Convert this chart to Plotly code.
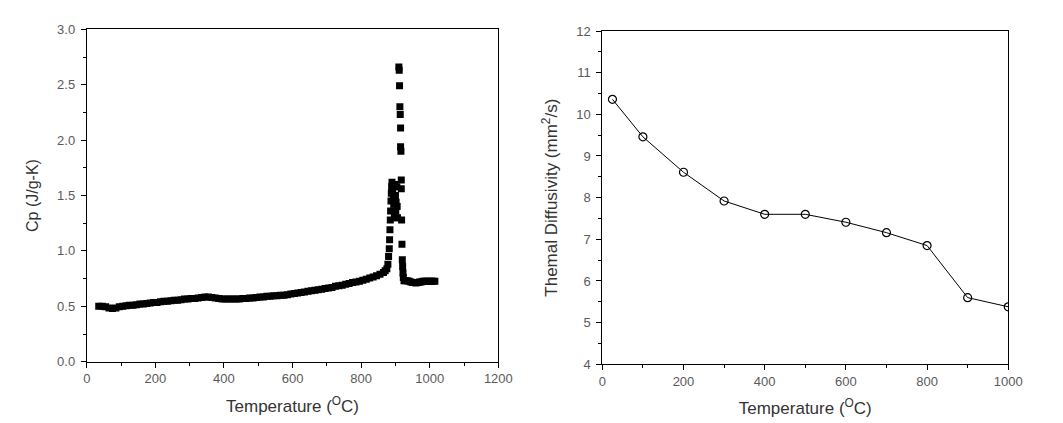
import plotly.graph_objects as go

# Left panel: specific heat Cp vs temperature (DSC scan)
cp_temp = [35, 45, 55, 65, 75, 85, 95, 105, 115, 125, 135, 145, 155, 165, 175, 185, 195,
           205, 215, 225, 235, 245, 255, 265, 275, 285, 295, 305, 315, 325, 335, 345, 355,
           365, 375, 385, 395, 405, 415, 425, 435, 445, 455, 465, 475, 485, 495, 505, 515,
           525, 535, 545, 555, 565, 575, 585, 595, 605, 615, 625, 635, 645, 655, 665, 675,
           685, 695, 705, 715, 725, 735, 745, 755, 765, 775, 785, 795, 805, 815, 825, 835,
           845, 855, 865, 870, 875, 878, 880, 882, 883, 884, 885, 886, 887, 888, 889, 890,
           892, 894, 895, 896, 897, 898, 900, 901, 902, 904, 905, 906,
           910, 911, 912, 913, 914, 915, 915, 916, 917, 917, 918, 919, 920, 921, 922, 923,
           925, 930, 935, 940, 945, 950, 955, 960, 965, 970, 975, 980, 985, 990, 995, 1000,
           1005, 1010, 1015]
cp_value = [0.50, 0.50, 0.495, 0.485, 0.48, 0.485, 0.495, 0.50, 0.505, 0.51, 0.51, 0.515,
            0.52, 0.52, 0.525, 0.53, 0.535, 0.535, 0.54, 0.545, 0.545, 0.55, 0.555, 0.555,
            0.56, 0.565, 0.565, 0.57, 0.57, 0.575, 0.58, 0.585, 0.585, 0.58, 0.575, 0.57,
            0.565, 0.565, 0.565, 0.565, 0.565, 0.565, 0.57, 0.57, 0.575, 0.575, 0.58, 0.585,
            0.585, 0.59, 0.59, 0.595, 0.595, 0.60, 0.60, 0.605, 0.61, 0.615, 0.62, 0.625,
            0.63, 0.635, 0.64, 0.645, 0.65, 0.655, 0.66, 0.665, 0.67, 0.68, 0.685, 0.69,
            0.70, 0.705, 0.715, 0.72, 0.725, 0.735, 0.745, 0.755, 0.765, 0.775, 0.79, 0.805,
            0.82, 0.84, 0.88, 0.95, 1.02, 1.10, 1.19, 1.28, 1.36, 1.45, 1.52, 1.58, 1.62,
            1.55, 1.48, 1.42, 1.36, 1.30, 1.60, 1.50, 1.34, 1.44, 1.58, 1.40, 1.30,
            2.66, 2.63, 2.49, 2.30, 2.23, 2.11, 1.94, 1.90, 1.64, 1.56, 1.28, 1.06, 0.92,
            0.86, 0.80, 0.76, 0.73, 0.73, 0.73, 0.725, 0.72, 0.715, 0.715, 0.71, 0.715,
            0.72, 0.72, 0.725, 0.725, 0.725, 0.725, 0.725, 0.725, 0.725, 0.725]

# Right panel: thermal diffusivity vs temperature
td_temp = [25, 100, 200, 300, 400, 500, 600, 700, 800, 900, 1000]
td_value = [10.36, 9.46, 8.61, 7.92, 7.60, 7.60, 7.41, 7.16, 6.85, 5.60, 5.38]

FONT = "Liberation Sans, Arial, sans-serif"
TICKCOL = "#5a5a5a"
TITLECOL = "#333333"

fig = go.Figure()
fig.add_trace(go.Scatter(
    x=cp_temp, y=cp_value, mode="markers", xaxis="x", yaxis="y",
    marker=dict(symbol="square", size=7, color="black", line=dict(width=0)),
    showlegend=False))
fig.add_trace(go.Scatter(
    x=td_temp, y=td_value, mode="lines+markers", xaxis="x2", yaxis="y2",
    line=dict(color="black", width=1),
    marker=dict(symbol="circle-open", size=8, color="black", line=dict(width=1.2)),
    showlegend=False))

def axis_style(**kw):
    d = dict(showline=True, linecolor="black", linewidth=1, mirror=True,
             ticks="outside", ticklen=5, tickwidth=1, tickcolor="black",
             showgrid=False, zeroline=False, automargin=False,
             tickfont=dict(family=FONT, size=13, color=TICKCOL))
    d.update(kw)
    return d

MINOR_X = dict(dtick=100, ticks="outside", ticklen=3, tickcolor="black")

fig.update_layout(
    width=1063, height=423,
    margin=dict(l=0, r=0, t=0, b=0),
    paper_bgcolor="white", plot_bgcolor="white",
    xaxis=axis_style(domain=[0.0816, 0.4688], range=[0, 1200], dtick=200,
                     minor=MINOR_X, anchor="y",
                     title=dict(text="Temperature (<sup>O</sup>C)", standoff=14,
                                font=dict(family=FONT, size=17, color=TITLECOL))),
    yaxis=axis_style(domain=[0.1449, 0.9307], range=[0, 3.0], dtick=0.5, tickformat=".1f",
                     minor=dict(dtick=0.25, ticks="outside", ticklen=3, tickcolor="black"),
                     anchor="x", ticklabelstandoff=3,
                     title=dict(text="Cp (J/g-K)", standoff=14,
                                font=dict(family=FONT, size=16, color=TITLECOL))),
    xaxis2=axis_style(domain=[0.5666, 0.9485], range=[0, 1000], dtick=200,
                      minor=MINOR_X, anchor="y2",
                      title=dict(text="Temperature (<sup>O</sup>C)", standoff=14,
                                 font=dict(family=FONT, size=17, color=TITLECOL))),
    yaxis2=axis_style(domain=[0.1388, 0.9267], range=[4, 12], dtick=1,
                      minor=dict(dtick=0.5, ticks="outside", ticklen=3, tickcolor="black"),
                      anchor="x2", ticklabelstandoff=3,
                      title=dict(text="Themal Diffusivity (mm<sup>2</sup>/s)", standoff=14,
                                 font=dict(family=FONT, size=17, color=TITLECOL))),
)

fig.write_html("out.html")
